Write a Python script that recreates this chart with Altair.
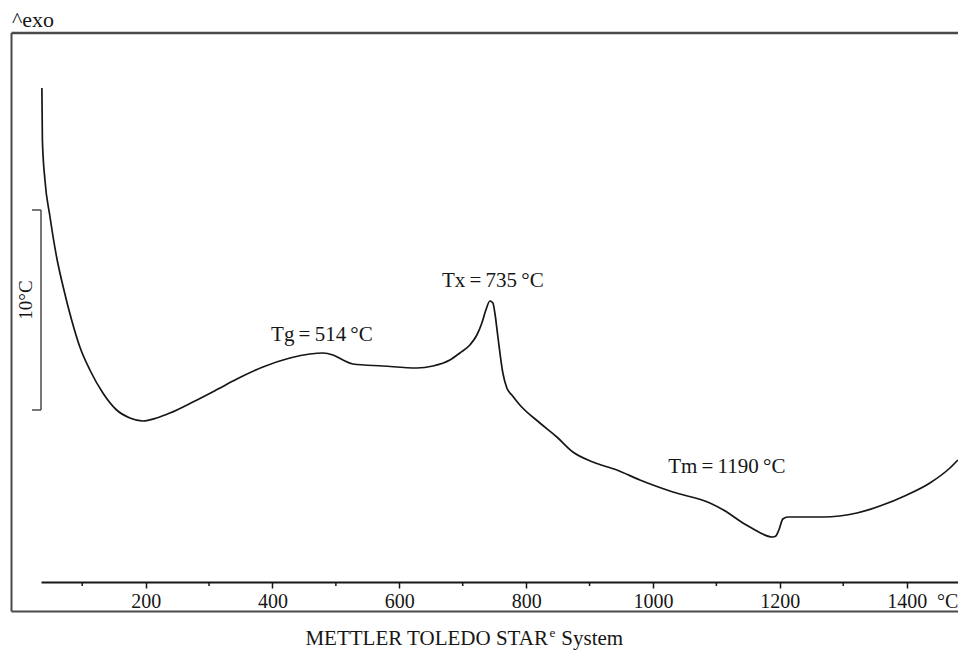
import altair as alt
import pandas as pd

# DTA curve: temperature (°C) and signal (°C, arbitrary offset)
temp = [36.4, 37.2, 41.2, 49.0, 59.6, 70.0, 83.3, 96.3, 112.1, 132.6, 154.2, 175.2,
        195.7, 217.3, 238.3, 274.5, 312.4, 343.9, 384.9, 427.5, 459.0, 479.5, 495.3,
        511.1, 526.8, 574.1, 627.7, 653.0, 679.8, 695.5, 711.3, 722.3, 730.2, 736.5,
        742.8, 747.6, 750.7, 755.5, 763.3, 769.6, 777.5, 790.1, 821.7, 848.5, 873.7,
        905.3, 943.1, 979.4, 1031.4, 1089.7, 1116.5, 1141.8, 1152.8, 1189.1, 1193.8,
        1198.5, 1204.8, 1212.7, 1267.9, 1321.5, 1357.8, 1400.4, 1436.7, 1468.2, 1480.8]
signal = [24.7, 22.1, 20.1, 18.3, 16.25, 14.75, 13.1, 11.75, 10.6, 9.45, 8.6, 8.2,
          8.05, 8.2, 8.45, 9.0, 9.62, 10.15, 10.75, 11.2, 11.4, 11.45, 11.35,
          11.1, 10.9, 10.8, 10.7, 10.8, 11.1, 11.45, 11.85, 12.35, 12.95, 13.6,
          14.05, 13.95, 13.45, 12.25, 10.45, 9.7, 9.35, 8.85, 7.95, 7.25, 6.5,
          6.0, 5.6, 5.1, 4.5, 3.95, 3.5, 2.95, 2.75, 2.25, 2.3,
          2.6, 3.15, 3.25, 3.25, 3.45, 3.8, 4.35, 4.95, 5.7, 6.1]

major_ticks = [200, 400, 600, 800, 1000, 1200, 1400]
minor_ticks = [100, 300, 500, 700, 900, 1100, 1300]

ann_text = ["Tg\u2009=\u2009514\u2009°C", "Tx\u2009=\u2009735\u2009°C", "Tm\u2009=\u20091190\u2009°C"]
ann_T = [478, 747.5, 1116.4]
ann_V = [12.05, 14.75, 5.45]

bar_low, bar_high = 8.6, 18.6   # 10 °C scale bar

# frame of the instrument print-out (in data units)
frame_T = [-11.5, 1500]
frame_V = [-1.475, 27.45]

W, H = 917, 549
FONT = "Liberation Serif"
INK = "#161616"
FRAME = "#4a4a4a"

xs = alt.Scale(domain=[35, 1481], nice=False, zero=False)
ys = alt.Scale(domain=[0, 27.45], nice=False, zero=False)

x_axis = alt.Axis(
    values=major_ticks, title=None, grid=False, format="d",
    domainColor=INK, domainWidth=2, tickColor=INK, tickWidth=1.5, tickSize=6,
    labelFont=FONT, labelFontSize=20, labelColor=INK, labelPadding=3,
    labelFlush=False)


def X(f):
    return alt.X(f, scale=xs, axis=x_axis)


def Y(f):
    return alt.Y(f, scale=ys, axis=None)


curve_df = pd.DataFrame({"T": temp, "V": signal})
curve = alt.Chart(curve_df).mark_line(
    color=INK, strokeWidth=1.7, interpolate="monotone"
).encode(x=X("T:Q"), y=Y("V:Q"))

minor_df = pd.DataFrame({"T": minor_ticks, "V": [0.0] * len(minor_ticks),
                         "V2": [-0.2] * len(minor_ticks)})
minor = alt.Chart(minor_df).mark_rule(color=INK, strokeWidth=1.5).encode(
    x=X("T:Q"), y=Y("V:Q"), y2="V2:Q")

ann = alt.Chart(pd.DataFrame({"T": ann_T, "V": ann_V, "label": ann_text})).mark_text(
    font=FONT, fontSize=21, color=INK, align="center", baseline="alphabetic"
).encode(x=X("T:Q"), y=Y("V:Q"), text="label:N")

bar_df = pd.DataFrame({"T": [35.0], "lo": [bar_low], "hi": [bar_high]})
bar = alt.Chart(bar_df).mark_rule(color=FRAME, strokeWidth=1.5).encode(
    x=X("T:Q"), y=Y("lo:Q"), y2="hi:Q")
caps_df = pd.DataFrame({"T": [20.8, 20.8], "T2": [35.0, 35.0], "V": [bar_low, bar_high]})
bar_caps = alt.Chart(caps_df).mark_rule(color=FRAME, strokeWidth=1.5).encode(
    x=X("T:Q"), x2="T2:Q", y=Y("V:Q"))
bar_label = alt.Chart(pd.DataFrame({"T": [11.3], "V": [14.1], "label": ["10°C"]})).mark_text(
    font=FONT, fontSize=19, color=INK, angle=270, align="center", baseline="middle"
).encode(x=X("T:Q"), y=Y("V:Q"), text="label:N")

fl_df = pd.DataFrame({"T": [frame_T[0]], "V": [frame_V[0]], "V2": [frame_V[1]]})
frame_left = alt.Chart(fl_df).mark_rule(color=FRAME, strokeWidth=2).encode(
    x=X("T:Q"), y=Y("V:Q"), y2="V2:Q")
fh_df = pd.DataFrame({"T": [frame_T[0]] * 2, "T2": [frame_T[1]] * 2, "V": frame_V, "w": [2.0, 2.5]})
frame_h = alt.Chart(fh_df).mark_rule(color=FRAME).encode(
    x=X("T:Q"), x2="T2:Q", y=Y("V:Q"),
    strokeWidth=alt.StrokeWidth("w:Q", scale=None, legend=None))

exo = alt.Chart(pd.DataFrame({"T": [-10.9], "V": [27.75], "label": ["^exo"]})).mark_text(
    font=FONT, fontSize=22, color=INK, align="left", baseline="alphabetic"
).encode(x=X("T:Q"), y=Y("V:Q"), text="label:N")

unit = alt.Chart(pd.DataFrame({"T": [1448], "V": [-1.3], "label": ["°C"]})).mark_text(
    font=FONT, fontSize=20, color=INK, align="left", baseline="alphabetic"
).encode(x=X("T:Q"), y=Y("V:Q"), text="label:N")

foot_T = [834.4, 837.0, 855.5]
foot_V = [-3.15, -3.15, -3.15]
foot_label = ["METTLER TOLEDO STAR", "e", "System"]
foot_main = alt.Chart(pd.DataFrame({"T": [foot_T[0]], "V": [foot_V[0]], "label": [foot_label[0]]})).mark_text(
    font=FONT, fontSize=21, color=INK, align="right", baseline="alphabetic"
).encode(x=X("T:Q"), y=Y("V:Q"), text="label:N")
foot_sup = alt.Chart(pd.DataFrame({"T": [foot_T[1]], "V": [foot_V[1]], "label": [foot_label[1]]})).mark_text(
    font=FONT, fontSize=13, color=INK, align="left", baseline="alphabetic", dy=-8
).encode(x=X("T:Q"), y=Y("V:Q"), text="label:N")
foot_end = alt.Chart(pd.DataFrame({"T": [foot_T[2]], "V": [foot_V[2]], "label": [foot_label[2]]})).mark_text(
    font=FONT, fontSize=21, color=INK, align="left", baseline="alphabetic"
).encode(x=X("T:Q"), y=Y("V:Q"), text="label:N")

chart = alt.layer(
    frame_left, frame_h, bar, bar_caps, bar_label,
    curve, minor, ann, exo, unit, foot_main, foot_sup, foot_end
).properties(
    width=W, height=H,
    autosize=alt.AutoSizeParams(type="none"),
    padding={"left": 41, "top": 33, "right": 0, "bottom": 70},
    background="white",
).configure_view(stroke=None)

chart.save("out.html", embed_options={"renderer": "svg", "actions": False})
